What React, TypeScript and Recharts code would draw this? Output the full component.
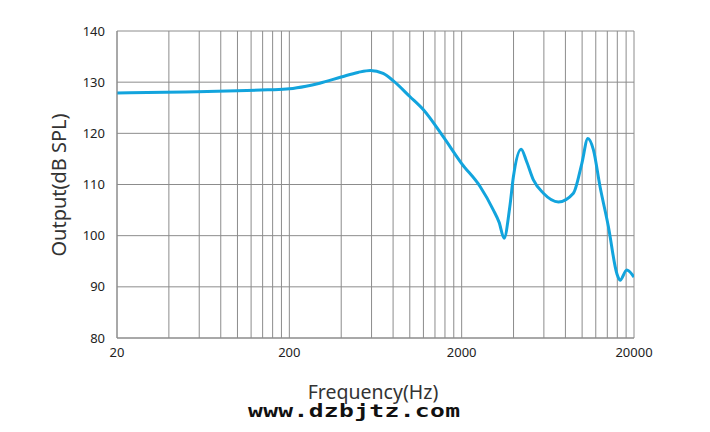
import { LineChart, Line, XAxis, YAxis, CartesianGrid } from 'recharts'

// frequency response
const freqs = [20, 30, 50, 100, 150, 200, 250, 300, 400, 500, 590, 700, 800, 1000, 1200, 1566, 2000, 2558, 3056, 3300, 3525, 3800, 3992, 4426, 4750, 5214, 5960, 7280, 8900, 9960, 10800, 11620, 12700, 14200, 15900, 16600, 18160, 20000]
const spl = [127.9, 128.0, 128.1, 128.3, 128.5, 128.7, 129.2, 129.8, 131.0, 131.9, 132.3, 131.7, 130.3, 127.2, 124.6, 119.3, 114.1, 109.6, 105.0, 102.6, 99.5, 105.5, 111.5, 116.9, 114.6, 110.9, 108.3, 106.6, 108.3, 114.1, 119.0, 116.8, 109.6, 101.8, 92.6, 91.3, 93.3, 91.9]

const xTicks = [20, 40, 60, 80, 100, 120, 140, 160, 180, 200, 400, 600, 800, 1000, 1200, 1400, 1600, 1800, 2000, 4000, 6000, 8000, 10000, 12000, 14000, 16000, 18000, 20000]
const xLabels = [20, 200, 2000, 20000]
const yTicks = [80, 90, 100, 110, 120, 130, 140]

const data = freqs.map((f, i) => ({ f, spl: spl[i] }))

const font = '"Noto Sans", "Open Sans", sans-serif'
const grid = '#8c8c8c'
const sx = 1.45

export default function App () {
  return (
    <div style={{ position: 'absolute', left: 0, top: 0, width: 710, height: 432, background: '#fff' }}>
      <LineChart width={710} height={432} data={data} margin={{ top: 31, right: 76, left: 0, bottom: 0 }}>
        <CartesianGrid stroke={grid} strokeWidth={1} />
        <XAxis
          dataKey='f'
          type='number'
          scale='log'
          domain={[20, 20000]}
          ticks={xTicks}
          interval={0}
          tickFormatter={(v: number) => (xLabels.includes(v) ? String(v) : '')}
          tickLine={false}
          tickMargin={4}
          stroke={grid}
          height={94}
          tick={{ fill: '#222', fontSize: 13, fontFamily: font }}
          allowDataOverflow
        />
        <YAxis
          type='number'
          domain={[80, 140]}
          ticks={yTicks}
          interval={0}
          tickLine={false}
          tickMargin={6}
          stroke={grid}
          width={117}
          tick={{ fill: '#222', fontSize: 13, fontFamily: font }}
        />
        <Line
          type='monotone'
          dataKey='spl'
          stroke='#12a4dd'
          strokeWidth={3}
          dot={false}
          isAnimationActive={false}
        />
      </LineChart>
      <svg width={710} height={432} style={{ position: 'absolute', left: 0, top: 0, pointerEvents: 'none' }}>
        <text x={373} y={399} textAnchor='middle' style={{ fontFamily: font, fontSize: 19.5, fill: '#333' }}>
          Frequency(Hz)
        </text>
        <text
          x={58.5}
          y={185}
          textAnchor='middle'
          dominantBaseline='central'
          transform='rotate(-90 58.5 185)'
          style={{ fontFamily: font, fontSize: 20, fill: '#333' }}
        >
          Output(dB SPL)
        </text>
        <text
          x={248 / sx}
          y={417}
          textLength={212 / sx}
          lengthAdjust='spacing'
          transform={`scale(${sx} 1)`}
          style={{ fontFamily: '"DejaVu Sans Mono", monospace', fontWeight: 'bold', fontSize: 17, fill: '#111' }}
        >
          www.dzbjtz.com
        </text>
      </svg>
    </div>
  )
}
